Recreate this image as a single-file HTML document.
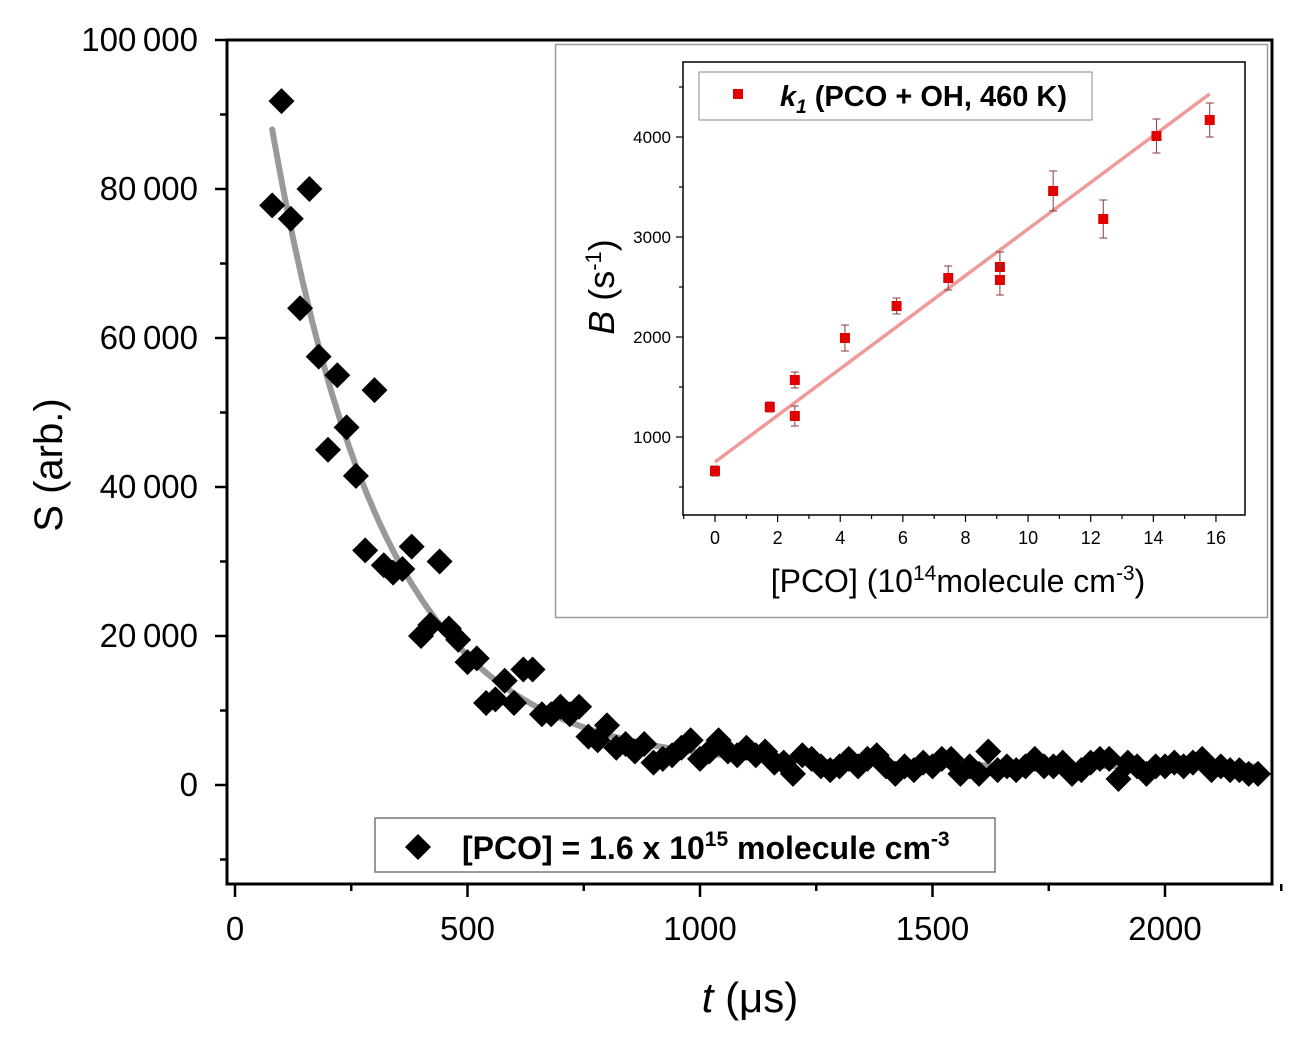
<!DOCTYPE html>
<html><head><meta charset="utf-8"><style>
html,body{margin:0;padding:0;background:#fff;}
svg{display:block;font-family:"Liberation Sans",Arial,sans-serif;}
</style></head><body>
<svg id="chart" width="1298" height="1042" viewBox="0 0 1298 1042">
<g id="main"></g>
<g id="inset"></g>
</svg>
<script>
// ===== Main chart data =====
const mainTimes = [80,100,120,140,160,180,200,220,240,260,280,300,320,340,360,380,400,420,440,460,480,500,520,540,560,580,600,620,640,660,680,700,720,740,760,780,800,820,840,860,880,900,920,940,960,980,1000,1020,1040,1060,1080,1100,1120,1140,1160,1180,1200,1220,1240,1260,1280,1300,1320,1340,1360,1380,1400,1420,1440,1460,1480,1500,1520,1540,1560,1580,1600,1620,1640,1660,1680,1700,1720,1740,1760,1780,1800,1820,1840,1860,1880,1900,1920,1940,1960,1980,2000,2020,2040,2060,2080,2100,2120,2140,2160,2180,2200];
const mainSignal = [77800,91800,76000,64000,80000,57500,45000,55000,48000,41500,31500,53000,29500,28500,29000,32000,20000,21500,30000,21000,19500,16500,17000,11000,11500,14000,11000,15500,15500,9500,9500,10500,9500,10500,6500,6000,8000,5000,5500,4500,5500,3000,3500,4000,5000,6000,3500,4500,6000,4500,4000,5000,4000,4500,3000,3000,1500,4000,3500,2500,2000,2500,3500,2500,3500,4000,2500,1500,2500,2000,3000,2500,3500,3500,1500,2500,1500,4500,2000,2500,2000,2500,3500,2500,2500,3000,1500,2000,3000,3500,3500,800,3000,2500,1500,2500,2500,3000,2500,3000,3500,2000,2500,2000,2000,1500,1500];
const fitAmp = 85500, fitTau = 240, fitT0 = 80, fitOffset = 2500;
const mainXTicks = [0,500,1000,1500,2000];
const mainYTicks = [0,20000,40000,60000,80000,100000];
const mainYLabels = ["0","20\u2009000","40\u2009000","60\u2009000","80\u2009000","100\u2009000"];

// ===== Inset data =====
const insetConc = [0,1.75,2.55,2.55,4.15,5.8,7.45,9.1,9.1,10.8,12.4,14.1,15.8];
const insetRate = [660,1300,1570,1210,1990,2310,2590,2700,2570,3460,3180,4010,4170];
const insetErr = [50,50,80,100,130,80,120,150,150,200,190,170,170];
const insetFitIntercept = 750, insetFitSlope = 233;
const insetXTicks = [0,2,4,6,8,10,12,14,16];
const insetYTicks = [1000,2000,3000,4000];

const NS="http://www.w3.org/2000/svg";
function mk(parent,tag,attrs,text){const e=document.createElementNS(NS,tag);for(const k in attrs)e.setAttribute(k,attrs[k]);if(text!==undefined)e.textContent=text;parent.appendChild(e);return e;}

const mx = v => 235 + v*0.465;
const my = v => 785 - v*0.00745;
const M = document.getElementById('main');
const L=227,R=1272,T=40,B=884;

let d="";
for(let t=fitT0;t<=2200;t+=5){const y=fitAmp*Math.exp(-(t-fitT0)/fitTau)+fitOffset;d+=(d?"L":"M")+mx(t).toFixed(1)+","+my(y).toFixed(1);}
let fit=mk(M,'path',{d:d,fill:'none',stroke:'#999',"stroke-width":6,"stroke-linecap":"round"});



mainTimes.forEach((t,i)=>{
  const cx=mx(t),cy=my(mainSignal[i]),s=13;
  const p=mk(M,'polygon',{points:`${cx},${cy-s} ${cx+s},${cy} ${cx},${cy+s} ${cx-s},${cy}`,fill:'#000'});
  
  
});

let fr=mk(M,'rect',{x:L,y:T,width:R-L,height:B-T,fill:'none',stroke:'#000',"stroke-width":3});



for(let v=-10000;v<=100000;v+=10000){
  const y=my(v); if(y>B||y<T-1)continue;
  const major=v%20000===0;
  mk(M,'line',{x1:L,x2:L-(major?12:7),y1:y,y2:y,stroke:'#000',"stroke-width":2.5});
}
mainYTicks.forEach((v,i)=>{
  const t=mk(M,'text',{x:198,y:my(v)+11,"text-anchor":"end","font-size":33,fill:'#000'},mainYLabels[i]);
  
  
});
for(let v=0;v<=2250;v+=250){
  const x=mx(v); const major=v%500===0;
  mk(M,'line',{x1:x,x2:x,y1:B,y2:B+(major?13:7),stroke:'#000',"stroke-width":2.5});
}
mainXTicks.forEach(v=>{
  const t=mk(M,'text',{x:mx(v),y:940,"text-anchor":"middle","font-size":33,fill:'#000'},String(v));
  
  
});
let yt=mk(M,'text',{transform:'translate(62,465) rotate(-90)',"text-anchor":"middle","font-size":40,fill:'#000'});
yt.innerHTML='<tspan>S</tspan> (arb.)';


let xt=mk(M,'text',{x:750,y:1012,"text-anchor":"middle","font-size":42,fill:'#000'});
xt.innerHTML='<tspan font-style="italic">t</tspan> (\u03bcs)';



const lg=mk(M,'g',{});


mk(lg,'rect',{x:375,y:818,width:620,height:54,fill:'#fff',stroke:'#777',"stroke-width":1.5});
mk(lg,'polygon',{points:'418,834 431,847 418,860 405,847',fill:'#000'});
let lt=mk(lg,'text',{x:462,y:859,"font-size":32,"font-weight":"bold",fill:'#000'});
lt.innerHTML='[PCO] = 1.6 x 10<tspan dy="-13" font-size="21">15</tspan><tspan dy="13"> molecule cm</tspan><tspan dy="-13" font-size="21">-3</tspan>';

// ===== Inset =====
const I=document.getElementById('inset');
let ib=mk(I,'rect',{x:555.5,y:44.5,width:712,height:573,fill:'#fff',stroke:'#999',"stroke-width":1.5});


const ix = v => 715 + v*31.31;
const iy = v => 537 - v*0.1;
const iL=683,iR=1245,iT=62,iB=515;

for(let v=-1;v<=17;v++){
  const x=ix(v); if(x<iL-0.5||x>iR+0.5)continue;
  mk(I,'line',{x1:x,x2:x,y1:iB,y2:iB+(v%2===0?7:4),stroke:'#000',"stroke-width":1.2});
}
for(let v=500;v<=4500;v+=500){
  const y=iy(v);
  mk(I,'line',{x1:iL,x2:iL-(v%1000===0?7:4),y1:y,y2:y,stroke:'#000',"stroke-width":1.2});
}
insetXTicks.forEach(v=>{
  const t=mk(I,'text',{x:ix(v),y:544,"text-anchor":"middle","font-size":18,fill:'#000'},String(v));
  
  
});
insetYTicks.forEach(v=>{
  const t=mk(I,'text',{x:671,y:iy(v)+6,"text-anchor":"end","font-size":17,fill:'#000'},String(v));
  
  
});

let il=mk(I,'line',{x1:ix(0),y1:iy(insetFitIntercept),x2:ix(15.8),y2:iy(insetFitIntercept+insetFitSlope*15.8),stroke:'#ef9a9a',"stroke-width":3.5});



insetConc.forEach((c,i)=>{
  const x=ix(c),y=iy(insetRate[i]),e=insetErr[i];
  const g=mk(I,'g',{});
  
  
  mk(g,'line',{x1:x,x2:x,y1:iy(insetRate[i]+e),y2:iy(insetRate[i]-e),stroke:'#8b3a3a',"stroke-width":1});
  mk(g,'line',{x1:x-4,x2:x+4,y1:iy(insetRate[i]+e),y2:iy(insetRate[i]+e),stroke:'#8b3a3a',"stroke-width":1});
  mk(g,'line',{x1:x-4,x2:x+4,y1:iy(insetRate[i]-e),y2:iy(insetRate[i]-e),stroke:'#8b3a3a',"stroke-width":1});
  mk(g,'rect',{x:x-5,y:y-5,width:10,height:10,fill:'#e00000'});
});

let iframe=mk(I,'rect',{x:iL,y:iT,width:iR-iL,height:iB-iT,fill:'none',stroke:'#000',"stroke-width":1.5});



const il2=mk(I,'g',{});


mk(il2,'rect',{x:699,y:72,width:393,height:48,fill:'#fff',stroke:'#888',"stroke-width":1});
mk(il2,'rect',{x:733,y:89,width:10,height:10,fill:'#e00000'});
let ilt=mk(il2,'text',{x:780,y:106,"font-size":29,"font-weight":"bold",fill:'#000'});
ilt.innerHTML='<tspan font-style="italic">k</tspan><tspan font-style="italic" font-size="19" dy="7">1</tspan><tspan dy="-7"> (PCO + OH, 460 K)</tspan>';

let iyt=mk(I,'text',{transform:'translate(614,287) rotate(-90)',"text-anchor":"middle","font-size":36,fill:'#000'});
iyt.innerHTML='<tspan font-style="italic">B</tspan> (s<tspan dy="-13" font-size="22">-1</tspan><tspan dy="13">)</tspan>';


let ixt=mk(I,'text',{x:958,y:592,"text-anchor":"middle","font-size":32,fill:'#000'});
ixt.innerHTML='[PCO] (10<tspan dy="-12" font-size="21">14</tspan><tspan dy="12">molecule cm</tspan><tspan dy="-12" font-size="21">-3</tspan><tspan dy="12">)</tspan>';


</script>
</body></html>
